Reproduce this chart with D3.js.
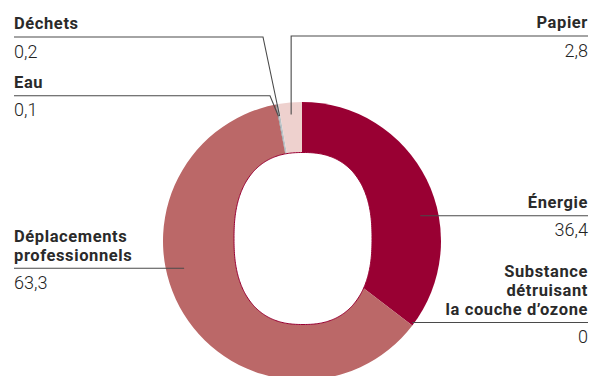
<!DOCTYPE html>
<html>
<head>
<meta charset="utf-8">
<script src="https://cdn.jsdelivr.net/npm/d3@7"></script>
<style>
  html, body { margin: 0; padding: 0; background: #fff; }
  svg { display: block; }
</style>
</head>
<body>
<svg id="chart" width="604" height="376"></svg>
<script>
// ---- data ----
const categories = ["Énergie", "Substance détruisant la couche d’ozone", "Déplacements professionnels", "Eau", "Déchets", "Papier"];
const values = [36.4, 0, 63.3, 0.1, 0.2, 2.8];
const labelLines = [
  ["Énergie"],
  ["Substance", "détruisant", "la couche d’ozone"],
  ["Déplacements", "professionnels"],
  ["Eau"],
  ["Déchets"],
  ["Papier"]
];
const colors = ["#990033", "#990033", "#bb6868", "#858f94", "#b9c2c6", "#eed1ce"];

// ---- layout (annotation placement) ----
const W = 604, H = 376;
const cx = 302, cy = 241, outerR = 139;
const hole = { cx: 303, cy: 238.5, a: 69, b: 86, n: 2.4 };
const leftX = 14, rightX = 588;
const labelLayout = [
  { side: "right", lineY: 215.7, kind: "horizontal", r: 121 },
  { side: "right", lineY: 322.5, kind: "edge" },
  { side: "left",  lineY: 268.3, kind: "horizontal", r: 121 },
  { side: "left",  lineY: 95.7,  kind: "elbow", elbowX: 270, r: 127 },
  { side: "left",  lineY: 37,    kind: "elbow", elbowX: 263, r: 127 },
  { side: "right", lineY: 36,    kind: "vertical", r: 127 }
];

const fmt = d3.formatLocale({ decimal: ",", thousands: " ", grouping: [3], currency: ["", "€"] }).format(".1~f");

const svg = d3.select("#chart");
const data = categories.map((c, i) => ({ name: c, value: values[i], lines: labelLines[i], color: colors[i], layout: labelLayout[i] }));

const pie = d3.pie().sort(null).value(d => d.value).startAngle(0).endAngle(2 * Math.PI);
const arcs = pie(data);
const arc = d3.arc().innerRadius(0).outerRadius(outerR);

const g = svg.append("g").attr("transform", `translate(${cx},${cy})`);
g.selectAll("path.slice")
  .data(arcs)
  .join("path")
  .attr("class", "slice")
  .attr("d", arc)
  .attr("fill", d => d.data.color);

// hole (superellipse)
const holePts = d3.range(0, 361).map(deg => {
  const t = deg * Math.PI / 180;
  const c = Math.cos(t), s = Math.sin(t);
  const x = hole.a * Math.sign(c) * Math.pow(Math.abs(c), 2 / hole.n);
  const y = hole.b * Math.sign(s) * Math.pow(Math.abs(s), 2 / hole.n);
  return [hole.cx + x, hole.cy + y];
});
svg.append("path")
  .attr("d", d3.line().curve(d3.curveLinearClosed)(holePts))
  .attr("fill", "#fff")
  .attr("stroke", "#990033")
  .attr("stroke-width", 1);

// leaders and labels
const lead = svg.append("g").attr("fill", "none").attr("stroke", "#4a4a4a").attr("stroke-width", 1.1);
const txt = svg.append("g").attr("fill", "#2a2a2a");

function polar(angle, r) {
  return [cx + r * Math.sin(angle), cy - r * Math.cos(angle)];
}

arcs.forEach(a => {
  const L = a.data.layout;
  const edgeX = L.side === "left" ? leftX : rightX;
  let pts;
  if (L.kind === "horizontal") {
    const dy = L.lineY - cy;
    const dx = Math.sqrt(L.r * L.r - dy * dy);
    const x = L.side === "left" ? cx - dx : cx + dx;
    pts = [[edgeX, L.lineY], [x, L.lineY]];
  } else if (L.kind === "edge") {
    const p = polar(a.startAngle, outerR);
    pts = [[edgeX, L.lineY], [p[0], L.lineY]];
  } else if (L.kind === "vertical") {
    const p = polar((a.startAngle + a.endAngle) / 2, L.r);
    pts = [[edgeX, L.lineY], [p[0], L.lineY], p];
  } else {
    const p = polar((a.startAngle + a.endAngle) / 2, L.r);
    pts = [[edgeX, L.lineY], [L.elbowX, L.lineY], p];
  }
  lead.append("path").attr("d", d3.line()(pts));

  const anchor = L.side === "left" ? "start" : "end";
  const n = a.data.lines.length;
  const lh = 19;
  a.data.lines.forEach((t, k) => {
    txt.append("text")
      .attr("x", edgeX)
      .attr("y", L.lineY - 7.8 - (n - 1 - k) * lh)
      .attr("text-anchor", anchor)
      .style("font-family", "Roboto, 'Open Sans', sans-serif")
      .style("font-weight", "700")
      .style("font-size", "16.5px")
      .style("letter-spacing", "0.6px")
      .text(t);
  });
  txt.append("text")
    .attr("x", edgeX)
    .attr("y", L.lineY + 20.5)
    .attr("text-anchor", anchor)
    .style("font-family", "Roboto, 'Open Sans', sans-serif")
    .style("font-weight", "300")
    .style("font-size", "18px")
    .style("fill", "#222")
    .text(fmt(a.data.value));
});
</script>
</body>
</html>
